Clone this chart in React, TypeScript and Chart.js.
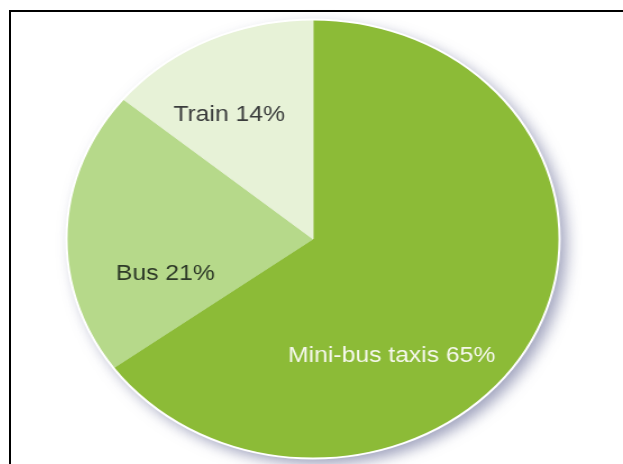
import React, { useEffect, useRef } from "react";
import { Chart, registerables } from "chart.js";

Chart.register(...registerables);

const categories = ["Mini-bus taxis", "Bus", "Train"];
const shares = [65, 21, 14];
const sliceColors = ["#8CBB37", "#B6D98A", "#E7F2D7"];
const labelColors = ["#F6F8EE", "#2E3A28", "#3A3C3C"];

// label anchor: clockwise angle from top (deg) and fraction of radius
const labelPlacement = [
  { angle: 149, frac: 0.62 },
  { angle: 255, frac: 0.62 },
  { angle: 329, frac: 0.66 },
];

const decorPlugin = {
  id: "decor",
  beforeDatasetsDraw(chart: any) {
    const arc = chart.getDatasetMeta(0).data[0];
    if (!arc) return;
    const { x, y, outerRadius } = arc.getProps(["x", "y", "outerRadius"], true);
    const ctx = chart.ctx;
    ctx.save();
    ctx.shadowColor = "rgba(80,85,135,0.55)";
    ctx.shadowBlur = 14;
    ctx.shadowOffsetX = 6;
    ctx.shadowOffsetY = 6;
    ctx.beginPath();
    ctx.arc(x, y, outerRadius, 0, Math.PI * 2);
    ctx.fillStyle = "#ffffff";
    ctx.fill();
    ctx.restore();
  },
  afterDatasetsDraw(chart: any) {
    const meta = chart.getDatasetMeta(0);
    const arc = meta.data[0];
    if (!arc) return;
    const { x, y, outerRadius } = arc.getProps(["x", "y", "outerRadius"], true);
    const ctx = chart.ctx;
    ctx.save();
    ctx.beginPath();
    ctx.arc(x, y, outerRadius, 0, Math.PI * 2);
    ctx.strokeStyle = "#ffffff";
    ctx.lineWidth = 2;
    ctx.stroke();

    ctx.font = "22px 'Liberation Sans', Arial, sans-serif";
    ctx.textAlign = "center";
    ctx.textBaseline = "middle";
    const labels = chart.data.labels;
    const values = chart.data.datasets[0].data;
    const total = values.reduce((a: number, b: number) => a + b, 0);
    labels.forEach((lab: string, i: number) => {
      const p = labelPlacement[i];
      const a = (p.angle * Math.PI) / 180;
      const lx = x + outerRadius * p.frac * Math.sin(a);
      const ly = y - outerRadius * p.frac * Math.cos(a);
      ctx.fillStyle = labelColors[i];
      ctx.fillText(`${lab} ${Math.round((values[i] / total) * 100)}%`, lx, ly);
    });
    ctx.restore();
  },
};

export default function App() {
  const canvasRef = useRef<HTMLCanvasElement | null>(null);

  useEffect(() => {
    if (!canvasRef.current) return;
    const chart = new Chart(canvasRef.current, {
      type: "pie",
      data: {
        labels: categories,
        datasets: [
          {
            data: shares,
            backgroundColor: sliceColors,
            borderColor: sliceColors,
            borderWidth: 1,
          },
        ],
      },
      options: {
        animation: false,
        responsive: true,
        maintainAspectRatio: false,
        devicePixelRatio: 1,
        events: [],
        layout: { padding: 20 },
        plugins: {
          legend: { display: false },
          tooltip: { enabled: false },
          title: { display: false },
        },
      },
      plugins: [decorPlugin],
    });
    return () => chart.destroy();
  }, []);

  return (
    <div
      style={{
        position: "fixed",
        left: 0,
        top: 0,
        width: 623,
        height: 464,
        overflow: "hidden",
        background: "#ffffff",
      }}
    >
      <div
        style={{
          position: "absolute",
          left: 9,
          top: 10,
          width: 614,
          height: 454,
          borderTop: "2px solid #000",
          borderLeft: "2px solid #000",
          boxSizing: "border-box",
        }}
      />
      <div
        style={{
          position: "absolute",
          left: 73,
          top: -1,
          width: 480,
          height: 480,
          transform: "scaleX(1.1233)",
          transformOrigin: "center center",
        }}
      >
        <canvas ref={canvasRef} />
      </div>
    </div>
  );
}
